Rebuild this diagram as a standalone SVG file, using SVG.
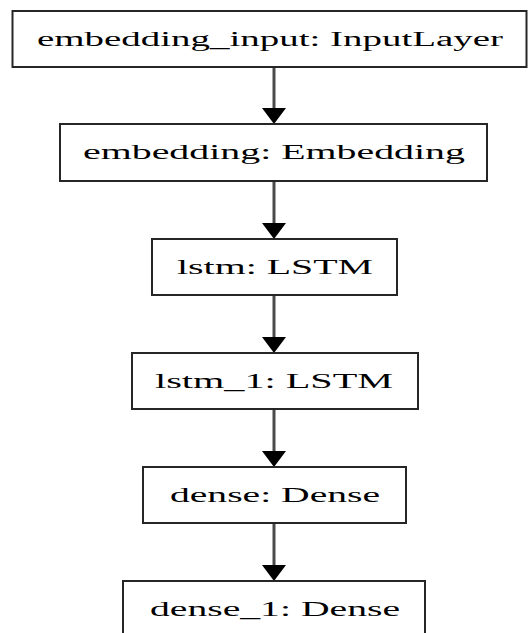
<svg xmlns="http://www.w3.org/2000/svg" width="528" height="633" viewBox="0 0 528 633">
<style>
.box{fill:#fff;stroke:#262626;stroke-width:2}
.lbl{font-family:"Liberation Serif","Times New Roman",serif;font-size:20px;fill:#000;text-anchor:start}
.edge{stroke:#4a4a4a;stroke-width:3;fill:none}
.head{fill:#000}
</style>
<rect width="528" height="633" fill="#fff"/>
<g id="edges">
<line class="edge" x1="274" y1="67" x2="274" y2="110"/><polygon class="head" points="262,108 286,108 274,124"/>
<line class="edge" x1="274" y1="181" x2="274" y2="225"/><polygon class="head" points="262,223 286,223 274,239"/>
<line class="edge" x1="274" y1="295" x2="274" y2="339"/><polygon class="head" points="262,337 286,337 274,353"/>
<line class="edge" x1="274" y1="409" x2="274" y2="453"/><polygon class="head" points="262,451 286,451 274,467"/>
<line class="edge" x1="274" y1="523" x2="274" y2="567"/><polygon class="head" points="262,565 286,565 274,581"/>
</g>
<g id="embedding_input">
<rect class="box" x="12.5" y="11" width="514" height="56"/>
<text class="lbl" x="37" y="46" textLength="466" lengthAdjust="spacingAndGlyphs">embedding_input: InputLayer</text>
</g>
<g id="embedding">
<rect class="box" x="60" y="124" width="427" height="57"/>
<text class="lbl" x="83" y="159" textLength="382" lengthAdjust="spacingAndGlyphs">embedding: Embedding</text>
</g>
<g id="lstm">
<rect class="box" x="152" y="239" width="245" height="56"/>
<text class="lbl" x="177" y="274" textLength="196" lengthAdjust="spacingAndGlyphs">lstm: LSTM</text>
</g>
<g id="lstm_1">
<rect class="box" x="132" y="353" width="286" height="56"/>
<text class="lbl" x="155" y="388" textLength="238" lengthAdjust="spacingAndGlyphs">lstm_1: LSTM</text>
</g>
<g id="dense">
<rect class="box" x="143" y="467" width="263" height="56"/>
<text class="lbl" x="170" y="502" textLength="210" lengthAdjust="spacingAndGlyphs">dense: Dense</text>
</g>
<g id="dense_1">
<rect class="box" x="123" y="581" width="302" height="60"/>
<text class="lbl" x="150" y="616" textLength="250" lengthAdjust="spacingAndGlyphs">dense_1: Dense</text>
</g>
</svg>
